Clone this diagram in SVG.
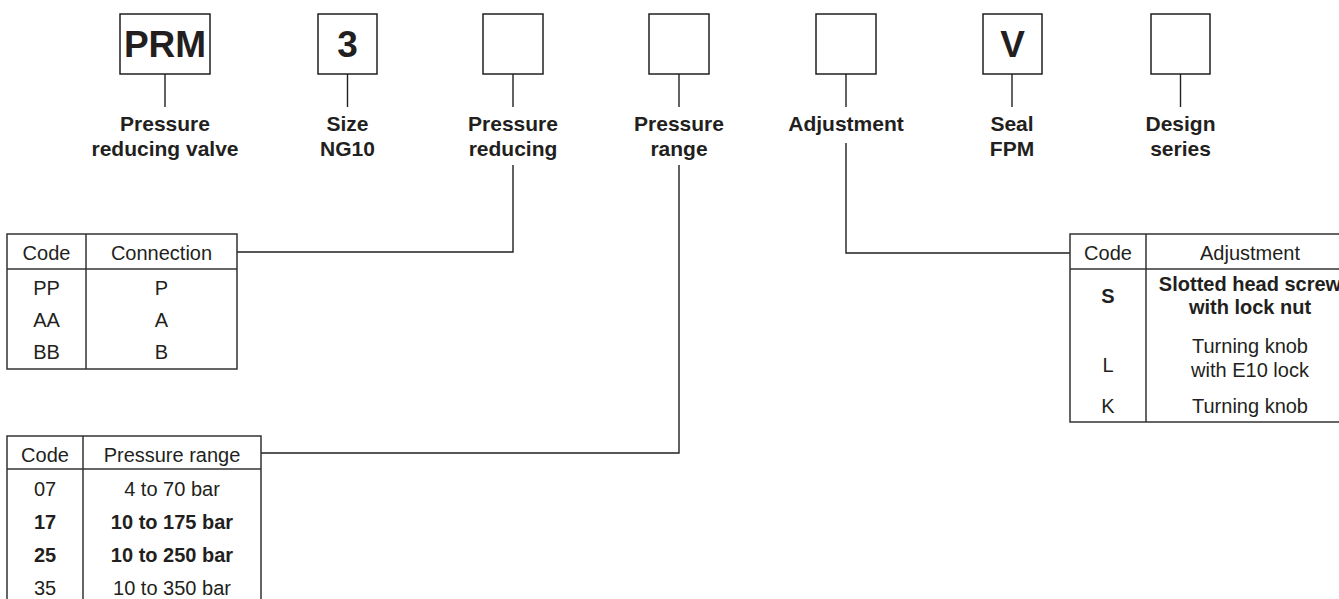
<svg xmlns="http://www.w3.org/2000/svg" width="1339" height="599" viewBox="0 0 1339 599">
<style>
.box{fill:#fff;stroke:#231f20;stroke-width:1.5}
.ln{fill:none;stroke:#231f20;stroke-width:1.4}
.tb{fill:#fff;stroke:#333;stroke-width:1.5}
.big{font-family:"Liberation Sans",Arial,sans-serif;font-weight:bold;font-size:37px;fill:#231f20;text-anchor:middle}
.lab{font-family:"Liberation Sans",Arial,sans-serif;font-weight:bold;font-size:21px;fill:#231f20;text-anchor:middle}
.t{font-family:"Liberation Sans",Arial,sans-serif;font-size:20px;fill:#231f20;text-anchor:middle}
.b{font-weight:bold}
</style>
<rect width="1339" height="599" fill="#fff"/>
<g id="connectors">
<line class="ln" x1="165" y1="74" x2="165" y2="107"/>
<line class="ln" x1="347.5" y1="74" x2="347.5" y2="107"/>
<line class="ln" x1="513" y1="74" x2="513" y2="107"/>
<line class="ln" x1="679" y1="74" x2="679" y2="107"/>
<line class="ln" x1="846" y1="74" x2="846" y2="107"/>
<line class="ln" x1="1012" y1="74" x2="1012" y2="107"/>
<line class="ln" x1="1180.5" y1="74" x2="1180.5" y2="107"/>
<polyline class="ln" points="513,165 513,252 237,252"/>
<polyline class="ln" points="679,165 679,453 261,453"/>
<polyline class="ln" points="846,143 846,253 1070,253"/>
</g>
<g id="n-prm">
<rect class="box" x="120" y="14" width="90" height="60"/>
<text class="big" x="165" y="57">PRM</text>
<text class="lab" x="165" y="131">Pressure</text>
<text class="lab" x="165" y="156">reducing valve</text>
</g>
<g id="n-size">
<rect class="box" x="318" y="14" width="59" height="60"/>
<text class="big" x="347.5" y="57">3</text>
<text class="lab" x="347.5" y="131">Size</text>
<text class="lab" x="347.5" y="156">NG10</text>
</g>
<g id="n-reducing">
<rect class="box" x="483" y="14" width="60" height="60"/>
<text class="lab" x="513" y="131">Pressure</text>
<text class="lab" x="513" y="156">reducing</text>
</g>
<g id="n-range">
<rect class="box" x="649" y="14" width="60" height="60"/>
<text class="lab" x="679" y="131">Pressure</text>
<text class="lab" x="679" y="156">range</text>
</g>
<g id="n-adjust">
<rect class="box" x="816" y="14" width="60" height="60"/>
<text class="lab" x="846" y="131">Adjustment</text>
</g>
<g id="n-seal">
<rect class="box" x="983" y="14" width="59" height="60"/>
<text class="big" x="1012.5" y="57">V</text>
<text class="lab" x="1012" y="131">Seal</text>
<text class="lab" x="1012" y="156">FPM</text>
</g>
<g id="n-design">
<rect class="box" x="1151" y="14" width="59" height="60"/>
<text class="lab" x="1180.5" y="131">Design</text>
<text class="lab" x="1180.5" y="156">series</text>
</g>
<g id="t-connection">
<rect class="tb" x="7" y="234" width="230" height="135"/>
<line class="tb" x1="7" y1="269" x2="237" y2="269"/>
<line class="tb" x1="86" y1="234" x2="86" y2="369"/>
<text class="t" x="46.5" y="260">Code</text>
<text class="t" x="161.5" y="260">Connection</text>
<text class="t" x="46.5" y="295">PP</text>
<text class="t" x="161.5" y="295">P</text>
<text class="t" x="46.5" y="327">AA</text>
<text class="t" x="161.5" y="327">A</text>
<text class="t" x="46.5" y="359">BB</text>
<text class="t" x="161.5" y="359">B</text>
</g>
<g id="t-range">
<rect class="tb" x="7" y="436" width="254" height="180"/>
<line class="tb" x1="7" y1="469" x2="261" y2="469"/>
<line class="tb" x1="83" y1="436" x2="83" y2="616"/>
<text class="t" x="45" y="462">Code</text>
<text class="t" x="172" y="462">Pressure range</text>
<text class="t" x="45" y="496">07</text>
<text class="t" x="172" y="496">4 to 70 bar</text>
<text class="t b" x="45" y="529">17</text>
<text class="t b" x="172" y="529">10 to 175 bar</text>
<text class="t b" x="45" y="562">25</text>
<text class="t b" x="172" y="562">10 to 250 bar</text>
<text class="t" x="45" y="595">35</text>
<text class="t" x="172" y="595">10 to 350 bar</text>
</g>
<g id="t-adjustment">
<rect class="tb" x="1070" y="234" width="300" height="188"/>
<line class="tb" x1="1070" y1="269" x2="1370" y2="269"/>
<line class="tb" x1="1146" y1="234" x2="1146" y2="422"/>
<text class="t" x="1108" y="260">Code</text>
<text class="t" x="1250" y="260">Adjustment</text>
<text class="t b" x="1108" y="303">S</text>
<text class="t b" x="1250" y="291">Slotted head screw</text>
<text class="t b" x="1250" y="314">with lock nut</text>
<text class="t" x="1108" y="372">L</text>
<text class="t" x="1250" y="353">Turning knob</text>
<text class="t" x="1250" y="377">with E10 lock</text>
<text class="t" x="1108" y="413">K</text>
<text class="t" x="1250" y="413">Turning knob</text>
</g>
</svg>
